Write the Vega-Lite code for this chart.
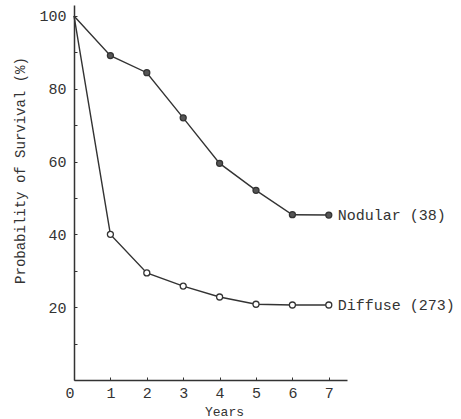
{
  "$schema": "https://vega.github.io/schema/vega-lite/v6.json",
  "width": 273,
  "height": 375,
  "autosize": "none",
  "padding": {"left": 74, "top": 5, "right": 114, "bottom": 39},
  "background": "white",
  "config": {"view": {"stroke": null}, "font": "Liberation Mono"},
  "data": {
    "values": [
      {"series": "Nodular", "year": 0, "survival": 100, "label": ""},
      {"series": "Nodular", "year": 1, "survival": 89.1, "label": ""},
      {"series": "Nodular", "year": 2, "survival": 84.4, "label": ""},
      {"series": "Nodular", "year": 3, "survival": 72.0, "label": ""},
      {"series": "Nodular", "year": 4, "survival": 59.5, "label": ""},
      {"series": "Nodular", "year": 5, "survival": 52.1, "label": ""},
      {"series": "Nodular", "year": 6, "survival": 45.4, "label": ""},
      {"series": "Nodular", "year": 7, "survival": 45.3, "label": "Nodular (38)"},
      {"series": "Diffuse", "year": 0, "survival": 100, "label": ""},
      {"series": "Diffuse", "year": 1, "survival": 40.0, "label": ""},
      {"series": "Diffuse", "year": 2, "survival": 29.4, "label": ""},
      {"series": "Diffuse", "year": 3, "survival": 25.8, "label": ""},
      {"series": "Diffuse", "year": 4, "survival": 22.8, "label": ""},
      {"series": "Diffuse", "year": 5, "survival": 20.8, "label": ""},
      {"series": "Diffuse", "year": 6, "survival": 20.6, "label": ""},
      {"series": "Diffuse", "year": 7, "survival": 20.6, "label": "Diffuse (273)"}
    ]
  },
  "encoding": {
    "x": {
      "field": "year",
      "type": "quantitative",
      "scale": {"domain": [0, 7.5], "nice": false},
      "axis": {
        "title": "Years",
        "values": [0, 1, 2, 3, 4, 5, 6, 7],
        "grid": false,
        "tickSize": -3,
        "tickColor": "#333",
        "domainColor": "#333",
        "domainWidth": 1.5,
        "labelFontSize": 15,
        "labelColor": "#333",
        "labelPadding": 8,
        "labelAlign": {"condition": {"test": "datum.value == 0", "value": "right"}, "value": "center"},
        "titleFontSize": 13,
        "titleFontWeight": "normal",
        "titleColor": "#333",
        "titleX": 150,
        "titleY": 31,
        "titleBaseline": "middle"
      }
    },
    "y": {
      "field": "survival",
      "type": "quantitative",
      "scale": {"domain": [0, 103], "nice": false},
      "axis": {
        "title": "Probability of Survival (%)",
        "values": [10, 20, 30, 40, 50, 60, 70, 80, 90, 100],
        "labelExpr": "datum.value % 20 == 0 ? datum.label : ''",
        "grid": false,
        "tickSize": -3,
        "tickColor": "#333",
        "domainColor": "#333",
        "domainWidth": 1.5,
        "labelFontSize": 15,
        "labelColor": "#333",
        "labelPadding": 11,
        "titleFontSize": 14,
        "titleFontWeight": "normal",
        "titleColor": "#333",
        "titleX": -54,
        "titleY": 165,
        "titleBaseline": "middle",
        "titleAlign": "center"
      }
    }
  },
  "layer": [
    {
      "mark": {"type": "line", "color": "#333333", "strokeWidth": 1.4},
      "encoding": {"detail": {"field": "series", "type": "nominal"}}
    },
    {
      "transform": [{"filter": "datum.year > 0"}],
      "mark": {"type": "point", "filled": false, "size": 36, "opacity": 1, "stroke": "#333333", "strokeWidth": 1.3, "shape": "circle"},
      "encoding": {
        "fill": {
          "field": "series",
          "type": "nominal",
          "scale": {"domain": ["Nodular", "Diffuse"], "range": ["#555555", "white"]},
          "legend": null
        }
      }
    },
    {
      "transform": [{"filter": "datum.label != ''"}],
      "mark": {"type": "text", "align": "left", "baseline": "middle", "dx": 9, "fontSize": 15, "color": "#333"},
      "encoding": {"text": {"field": "label", "type": "nominal"}}
    }
  ]
}
